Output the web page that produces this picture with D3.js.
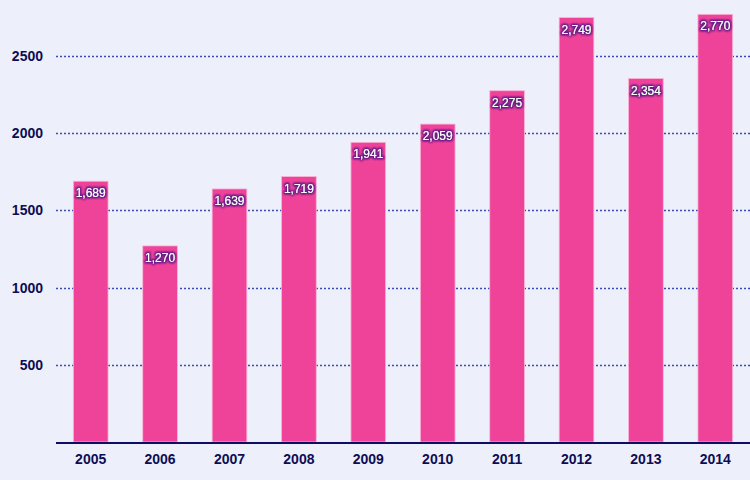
<!DOCTYPE html>
<html>
<head>
<meta charset="utf-8">
<script src="https://d3js.org/d3.v7.min.js"></script>
<style>
  html, body { margin: 0; padding: 0; background: #edf0fa; }
  svg { display: block; font-family: "Liberation Sans", Arial, sans-serif; }
</style>
</head>
<body>
<div class="chart"></div>
<script>
// chart data
const years = ['2005', '2006', '2007', '2008', '2009', '2010', '2011', '2012', '2013', '2014'];
const values = [1689, 1270, 1639, 1719, 1941, 2059, 2275, 2749, 2354, 2770];
const yTicks = [500, 1000, 1500, 2000, 2500];

const width = 750;
const height = 480;
const margin = { top: 0, right: 0, bottom: 38, left: 56 };

const svg = d3.select('.chart')
    .append('svg')
    .attr('width', width)
    .attr('height', height);

svg.append('rect')
    .attr('width', width)
    .attr('height', height)
    .attr('fill', '#edf0fa');

// purple halo behind the value labels
const defs = svg.append('defs');
const shadow = defs.append('filter').attr('id', 'glow')
    .attr('x', '-20%').attr('y', '-40%').attr('width', '140%').attr('height', '180%');
shadow.append('feMorphology').attr('in', 'SourceAlpha').attr('operator', 'dilate').attr('radius', 0.6).attr('result', 'd');
shadow.append('feGaussianBlur').attr('in', 'd').attr('stdDeviation', 1.1).attr('result', 'b');
shadow.append('feFlood').attr('flood-color', '#6a1d8a').attr('flood-opacity', 1);
shadow.append('feComposite').attr('in2', 'b').attr('operator', 'in').attr('result', 's');
const merge = shadow.append('feMerge');
merge.append('feMergeNode').attr('in', 's');
merge.append('feMergeNode').attr('in', 's');
merge.append('feMergeNode').attr('in', 'SourceGraphic');

const x = d3.scaleBand()
    .domain(years)
    .range([margin.left, width - margin.right])
    .paddingInner(0.5)
    .paddingOuter(0.25);

const y = d3.scaleLinear()
    .domain([0, 2500])
    .range([height - margin.bottom, 56]);

// grid lines
svg.append('g')
    .selectAll('line')
    .data(yTicks)
    .enter().append('line')
    .attr('x1', margin.left)
    .attr('x2', width - margin.right)
    .attr('y1', d => Math.round(y(d)) + 0.5)
    .attr('y2', d => Math.round(y(d)) + 0.5)
    .attr('stroke', '#3d4bb0')
    .attr('stroke-width', 1.3)
    .attr('stroke-dasharray', '2,2');

// y tick labels
svg.append('g')
    .selectAll('text')
    .data(yTicks)
    .enter().append('text')
    .attr('x', 43)
    .attr('y', d => y(d))
    .attr('dy', '0.36em')
    .attr('text-anchor', 'end')
    .attr('fill', '#0d0d55')
    .style('font-size', '14px')
    .style('font-weight', 'bold')
    .text(d => d);

// bars
svg.append('g')
    .selectAll('rect')
    .data(values)
    .enter().append('rect')
    .attr('x', (d, i) => x(years[i]))
    .attr('y', d => y(d))
    .attr('width', x.bandwidth())
    .attr('height', d => y(0) - y(d))
    .attr('fill', '#ef4399')
    .attr('stroke', '#f9b6d6')
    .attr('stroke-width', 0.8);

// value labels
svg.append('g')
    .selectAll('text')
    .data(values)
    .enter().append('text')
    .attr('x', (d, i) => x(years[i]) + x.bandwidth() / 2)
    .attr('y', d => y(d) + 16)
    .attr('text-anchor', 'middle')
    .attr('fill', '#ffffff')
    .attr('filter', 'url(#glow)')
    .style('font-size', '12px')
    .text(d => d3.format(',')(d));

// x axis line
svg.append('line')
    .attr('x1', margin.left)
    .attr('x2', width)
    .attr('y1', y(0) + 1)
    .attr('y2', y(0) + 1)
    .attr('stroke', '#0d0d66')
    .attr('stroke-width', 2);

// x tick labels
svg.append('g')
    .selectAll('text')
    .data(years)
    .enter().append('text')
    .attr('x', d => x(d) + x.bandwidth() / 2)
    .attr('y', y(0) + 22)
    .attr('text-anchor', 'middle')
    .attr('fill', '#0d0d55')
    .style('font-size', '14px')
    .style('font-weight', 'bold')
    .text(d => d);
</script>
</body>
</html>
